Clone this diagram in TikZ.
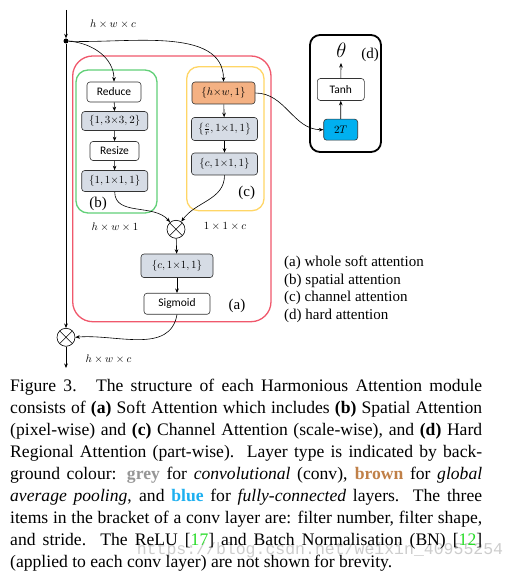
\documentclass[tikz,border=0pt]{standalone}
\usepackage{fontspec}
\setmainfont{Liberation Serif}
\newfontfamily\labelfont{Carlito}
\newfontfamily\wmfont{Liberation Mono}
\usetikzlibrary{arrows.meta}
\definecolor{redbox}{RGB}{240,88,108}
\definecolor{greenbox}{RGB}{98,208,120}
\definecolor{yellowbox}{RGB}{255,214,102}
\definecolor{convgray}{RGB}{214,220,229}
\definecolor{gaporange}{RGB}{244,177,131}
\definecolor{fcblue}{RGB}{0,176,240}
\definecolor{capgrey}{RGB}{150,150,150}
\definecolor{capbrown}{RGB}{192,128,72}
\definecolor{capblue}{RGB}{30,176,240}
\definecolor{capgreen}{RGB}{40,220,40}
\definecolor{wmgray}{RGB}{205,205,205}
\newcommand{\capline}[1]{\makebox[472pt][s]{#1}}
\begin{document}
\begin{tikzpicture}[x=1pt,y=1pt,
  >={Stealth[length=4.5pt,width=3.6pt]},
  conn/.style={draw=black,line width=0.6pt,->},
  layer/.style={draw=black!80,line width=0.6pt,rounded corners=3pt,inner sep=0pt,
    font=\labelfont\fontsize{11.5}{13}\selectfont},
  plainlayer/.style={layer,fill=white},
  convlayer/.style={layer,fill=convgray,font=\fontsize{11}{13}\selectfont},
  gaplayer/.style={layer,fill=gaporange,font=\fontsize{11}{13}\selectfont},
  fclayer/.style={layer,fill=fcblue,font=\fontsize{11}{13}\selectfont},
  groupbox/.style={line width=1.3pt,rounded corners=#1},
  mulnode/.style={circle,draw=black,line width=0.6pt,minimum size=18pt,inner sep=0pt,
    path picture={\draw[line width=0.6pt] (path picture bounding box.north west) -- (path picture bounding box.south east)
      (path picture bounding box.north east) -- (path picture bounding box.south west);}},
  dimlabel/.style={font=\fontsize{10.5}{12}\selectfont,inner sep=0pt},
  partlabel/.style={font=\fontsize{15}{17}\selectfont,inner sep=0pt},
  legend/.style={font=\fontsize{15}{17}\selectfont,inner sep=0pt,anchor=west}
]
\fill[white] (0,0) rectangle (516,574);
\useasboundingbox (0,0) rectangle (516,574);

% group boxes
\draw[groupbox=20pt,draw=redbox] (72.7,518) rectangle (271,252.3);
\draw[groupbox=12pt,draw=greenbox] (76,504) rectangle (157,361);
\draw[groupbox=12pt,draw=yellowbox] (186.7,507.3) rectangle (264,363.3);
\draw[groupbox=10pt,draw=black,line width=1.8pt] (310,539) rectangle (381,422);

% input
\coordinate (top) at (66,564);
\node[circle,fill=black,inner sep=0pt,minimum size=5pt] (dot) at (66,533) {};
\node[dimlabel] (dimin) at (113,550) {$h\times w\times c$};

% spatial branch
\node[plainlayer,minimum width=54pt,minimum height=20pt] (reduce) at (114,482) {Reduce};
\node[convlayer,minimum width=66pt,minimum height=19pt] (sconv1) at (114.7,453) {$\{1,3{\times}3,2\}$};
\node[plainlayer,minimum width=49pt,minimum height=19pt] (resize) at (114.5,423) {Resize};
\node[convlayer,minimum width=66pt,minimum height=21pt] (sconv2) at (114.7,393) {$\{1,1{\times}1,1\}$};
\node[partlabel] (lb) at (98,370) {(b)};

% channel branch
\node[gaplayer,minimum width=63pt,minimum height=22pt] (gap) at (223.5,481) {$\{h{\times}w,1\}$};
\node[convlayer,minimum width=66pt,minimum height=23pt] (cconv1) at (224.5,445) {$\left\{\frac{c}{r},1{\times}1,1\right\}$};
\node[convlayer,minimum width=66pt,minimum height=22pt] (cconv2) at (224.5,410) {$\{c,1{\times}1,1\}$};
\node[partlabel] (lc) at (246.7,381) {(c)};

% fusion
\node[mulnode] (mul1) at (176,344.7) {};
\node[dimlabel] (dims) at (115,347.3) {$h\times w\times 1$};
\node[dimlabel] (dimc) at (225,348) {$1\times 1\times c$};
\node[convlayer,minimum width=72pt,minimum height=23.5pt] (fconv) at (177,308.2) {$\{c,1{\times}1,1\}$};
\node[plainlayer,minimum width=66pt,minimum height=21pt] (sig) at (177,270.2) {Sigmoid};
\node[partlabel] (la) at (237,268) {(a)};

% output
\node[mulnode] (mul2) at (66,236.7) {};
\coordinate (bot) at (66,206);
\node[dimlabel] (dimout) at (108.5,215) {$h\times w\times c$};

% hard attention
\node[fclayer,minimum width=34pt,minimum height=21pt] (fc) at (340.7,444.3) {$2T$};
\node[plainlayer,minimum width=47pt,minimum height=22pt] (tanh) at (340.8,484.5) {Tanh};
\node[inner sep=0pt,font=\fontsize{20}{22}\selectfont] (theta) at (341.5,524) {$\theta$};
\coordinate (thetain) at (341,511);
\node[partlabel] (ld) at (370,519) {(d)};

% connectors
\draw[conn] (top) -- (dot);
\draw[conn] (dot) -- (mul2);
\draw[conn] (mul2) -- (bot);
\draw[conn] (dot) to[out=-4,in=90] (reduce.north);
\draw[conn] (dot) to[out=-3,in=90,looseness=0.9] (gap.north);
\draw[conn] (reduce) -- (sconv1);
\draw[conn] (sconv1) -- (resize);
\draw[conn] (resize) -- (sconv2);
\draw[conn] (gap) -- (cconv1);
\draw[conn] (cconv1) -- (cconv2);
\draw[conn] (sconv2.south) to[out=-90,in=130] (mul1.130);
\draw[conn] (cconv2.south) to[out=-90,in=55] (mul1.55);
\draw[conn] (mul1) -- (fconv);
\draw[conn] (fconv) -- (sig);
\draw[conn] (sig.south) to[out=-100,in=5] (mul2.east);
\draw[conn] (gap.east) to[out=0,in=180] (fc.west);
\draw[conn] (fc) -- (tanh);
\draw[conn] (tanh) -- (thetain);

% legend
\node[legend] (leg1) at (284,310.7) {(a) whole soft attention};
\node[legend] (leg2) at (284,293) {(b) spatial attention};
\node[legend] (leg3) at (284,275.7) {(c) channel attention};
\node[legend] (leg4) at (284,258) {(d) hard attention};

% watermark
\node[inner sep=0pt,text=wmgray,font=\wmfont\fontsize{16.5}{18}\selectfont] (wm) at (320,24) {https://blog.csdn.net/weixin\_40955254};

% caption
\node[anchor=north west,inner sep=0pt,align=left,font=\fontsize{17.6}{22}\selectfont] (caption) at (10,195) {%
\capline{Figure 3.\hskip1.1em The structure of each Harmonious Attention module}\\
\capline{consists of \textbf{(a)} Soft Attention which includes \textbf{(b)} Spatial Attention}\\
\capline{(pixel-wise) and \textbf{(c)} Channel Attention (scale-wise), and \textbf{(d)} Hard}\\
\capline{Regional Attention (part-wise).\ \ Layer type is indicated by back-}\\
\capline{ground colour: \textcolor{capgrey}{\textbf{grey}} for \textit{convolutional} (conv), \textcolor{capbrown}{\textbf{brown}} for \textit{global}}\\
\capline{\textit{average pooling}, and \textcolor{capblue}{\textbf{blue}} for \textit{fully-connected} layers.\ \ The three}\\
\capline{items in the bracket of a conv layer are: filter number, filter shape,}\\
\capline{and stride.\ \ The ReLU [\textcolor{capgreen}{17}] and Batch Normalisation (BN) [\textcolor{capgreen}{12}]}\\
(applied to each conv layer) are not shown for brevity.};
\end{tikzpicture}
\end{document}
